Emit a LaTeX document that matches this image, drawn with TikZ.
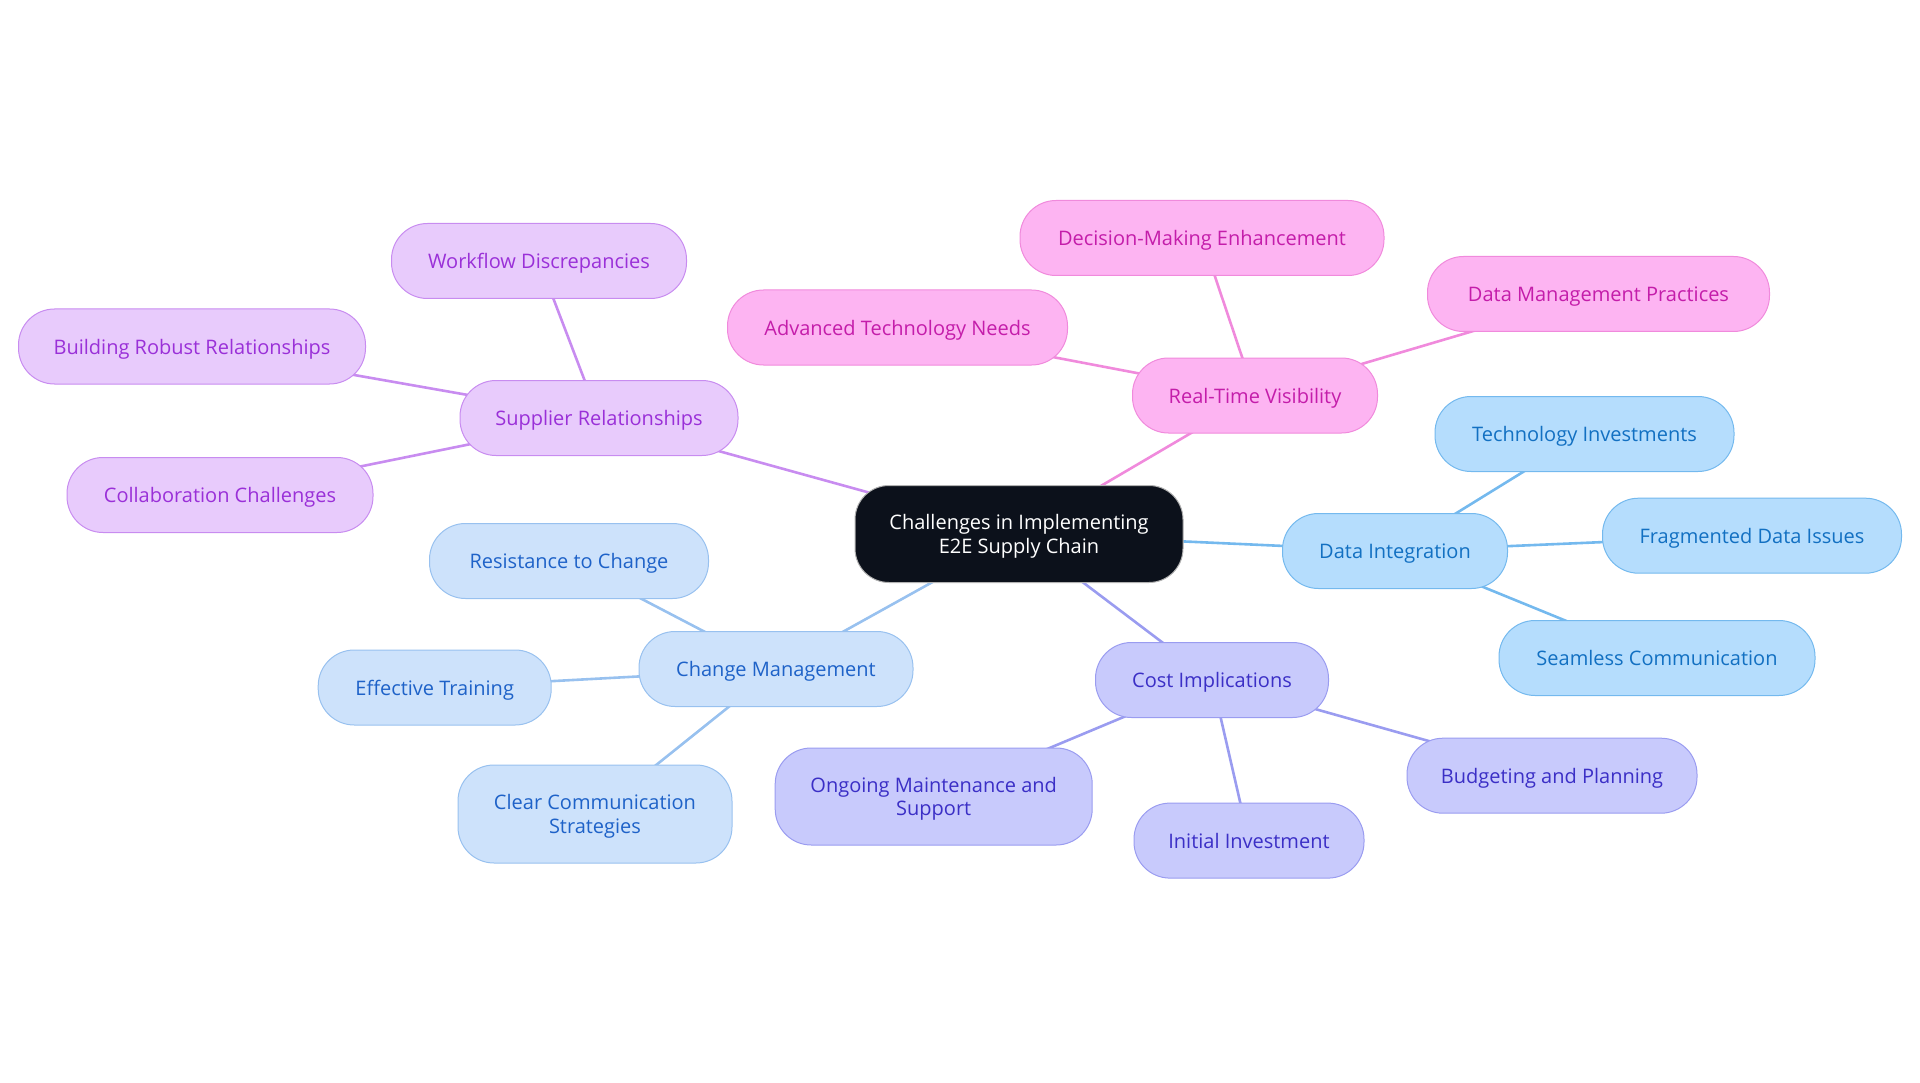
\documentclass[tikz,border=0pt]{standalone}
\usepackage{fontspec}
\setmainfont{Open Sans}
\usepackage{xcolor}
\usepackage{tikz}
\usetikzlibrary{backgrounds}

\definecolor{rootfill}{HTML}{0C111B}
\definecolor{supfill}{HTML}{E8CBFC}
\definecolor{supline}{HTML}{C88CF0}
\definecolor{suptext}{HTML}{9A30D8}
\definecolor{visfill}{HTML}{FDB4F2}
\definecolor{visline}{HTML}{F08ADC}
\definecolor{vistext}{HTML}{C41DAA}
\definecolor{datfill}{HTML}{B5DDFD}
\definecolor{datline}{HTML}{74B9EE}
\definecolor{dattext}{HTML}{1270C2}
\definecolor{cosfill}{HTML}{C8CAFC}
\definecolor{cosline}{HTML}{9A9CF0}
\definecolor{costext}{HTML}{3B2FC6}
\definecolor{chgfill}{HTML}{CDE2FB}
\definecolor{chgline}{HTML}{98C1EF}
\definecolor{chgtext}{HTML}{1E62C8}

\begin{document}
\begin{tikzpicture}[
    x=1pt,y=-1pt,
    pill/.style={rectangle,rounded corners=36pt,align=center,minimum height=75pt,inner sep=0pt,text depth=0pt,line width=1pt,font=\fontsize{20}{23.5}\selectfont},
    root/.style={pill,fill=rootfill,draw=gray!60,text=white,minimum width=328pt,minimum height=97pt,rounded corners=34pt},
    sup/.style={pill,fill=supfill,draw=supline,text=suptext},
    vis/.style={pill,fill=visfill,draw=visline,text=vistext},
    dat/.style={pill,fill=datfill,draw=datline,text=dattext},
    cos/.style={pill,fill=cosfill,draw=cosline,text=costext},
    chg/.style={pill,fill=chgfill,draw=chgline,text=chgtext},
    link/.style={line width=2.6pt}
]
\useasboundingbox (0,0) rectangle (1920,1083);

\node[root] (root) at (1019,534) {Challenges in Implementing\\E2E Supply Chain};

% supplier relationships
\node[sup,minimum width=278pt] (supplier) at (599,418) {Supplier Relationships};
\node[sup,minimum width=295pt] (workflow) at (539,261) {Workflow Discrepancies};
\node[sup,minimum width=347pt] (robust) at (192,346.5) {Building Robust Relationships};
\node[sup,minimum width=306pt] (collab) at (220,495) {Collaboration Challenges};

% real-time visibility
\node[vis,minimum width=245pt] (visibility) at (1255,395.5) {Real-Time Visibility};
\node[vis,minimum width=364pt] (decision) at (1202,238) {Decision-Making Enhancement};
\node[vis,minimum width=340pt] (advanced) at (897.5,327.5) {Advanced Technology Needs};
\node[vis,minimum width=342pt] (practices) at (1598.5,294) {Data Management Practices};

% data integration
\node[dat,minimum width=225pt] (integration) at (1395,551) {Data Integration};
\node[dat,minimum width=299pt] (techinv) at (1584.5,434) {Technology Investments};
\node[dat,minimum width=299pt] (fragmented) at (1752,535.7) {Fragmented Data Issues};
\node[dat,minimum width=316pt] (seamless) at (1657,658) {Seamless Communication};

% cost implications
\node[cos,minimum width=233pt] (cost) at (1212,680) {Cost Implications};
\node[cos,minimum width=290pt] (budget) at (1552,775.7) {Budgeting and Planning};
\node[cos,minimum width=230pt] (initial) at (1249,840.6) {Initial Investment};
\node[cos,minimum width=317pt,minimum height=97pt] (ongoing) at (933.7,796.5) {Ongoing Maintenance and\\Support};

% change management
\node[chg,minimum width=274pt] (change) at (776,669) {Change Management};
\node[chg,minimum width=279pt] (resist) at (569,561) {Resistance to Change};
\node[chg,minimum width=233pt] (training) at (434.7,687.5) {Effective Training};
\node[chg,minimum width=274pt,minimum height=98pt] (clear) at (595,814) {Clear Communication\\Strategies};

\begin{scope}[on background layer]
\draw[link,supline] (root.center) -- (supplier.center);
\foreach \n in {workflow,robust,collab}
    \draw[link,supline] (supplier.center) -- (\n.center);
\draw[link,visline] (root.center) -- (visibility.center);
\foreach \n in {decision,advanced,practices}
    \draw[link,visline] (visibility.center) -- (\n.center);
\draw[link,datline] (root.center) -- (integration.center);
\foreach \n in {techinv,fragmented,seamless}
    \draw[link,datline] (integration.center) -- (\n.center);
\draw[link,cosline] (root.center) -- (cost.center);
\foreach \n in {budget,initial,ongoing}
    \draw[link,cosline] (cost.center) -- (\n.center);
\draw[link,chgline] (root.center) -- (change.center);
\foreach \n in {resist,training,clear}
    \draw[link,chgline] (change.center) -- (\n.center);
\end{scope}
\end{tikzpicture}
\end{document}
